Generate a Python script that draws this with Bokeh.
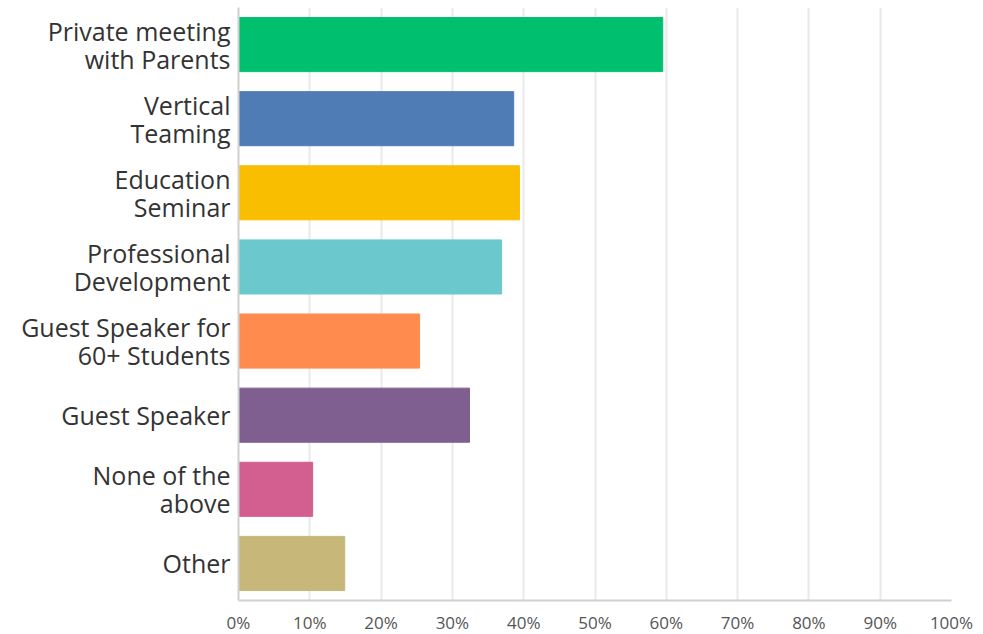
from bokeh.plotting import figure
from bokeh.models import FactorRange, Range1d, FixedTicker, ColumnDataSource
from bokeh.embed import file_html
from bokeh.resources import INLINE

categories = [
    "Private meeting\nwith Parents",
    "Vertical\nTeaming",
    "Education\nSeminar",
    "Professional\nDevelopment",
    "Guest Speaker for\n60+ Students",
    "Guest Speaker",
    "None of the\nabove",
    "Other",
]
values = [59.5, 38.6, 39.4, 36.9, 25.4, 32.4, 10.4, 14.9]
colors = ["#00BF6F", "#507CB6", "#F9BE00", "#6BC8CD", "#FF8B4F", "#7F5F90", "#D25F90", "#C7B879"]
ticks = [0, 10, 20, 30, 40, 50, 60, 70, 80, 90, 100]
tick_labels = {t: f"{t}%" for t in ticks}

src = ColumnDataSource(dict(cat=categories, val=values, color=colors))

p = figure(
    frame_width=713, frame_height=593,
    y_range=FactorRange(factors=list(reversed(categories)), range_padding=0),
    x_range=Range1d(0, 100),
    output_backend="svg", toolbar_location=None,
    min_border_left=238, min_border_right=24, min_border_top=7, min_border_bottom=0,
)
p.hbar(y="cat", right="val", left=0, height=0.73, color="color", source=src)

p.outline_line_color = None
p.ygrid.grid_line_color = None
p.xgrid.grid_line_color = "#e9e9e9"
p.xgrid.grid_line_width = 2
p.xaxis.ticker = FixedTicker(ticks=ticks)
p.xaxis.major_label_overrides = tick_labels
p.xaxis.major_tick_line_color = None
p.xaxis.major_tick_out = 0
p.xaxis.major_tick_in = 0
p.xaxis.minor_tick_line_color = None
p.xaxis.minor_tick_out = 0
p.xaxis.axis_line_color = "#d0d0d0"
p.xaxis.axis_line_width = 2
p.xaxis.major_label_text_font = "Open Sans"
p.xaxis.major_label_text_font_size = "17px"
p.xaxis.major_label_text_color = "#555555"
p.xaxis.major_label_standoff = 10

p.yaxis.major_tick_line_color = None
p.yaxis.major_tick_out = 0
p.yaxis.major_tick_in = 0
p.yaxis.minor_tick_line_color = None
p.yaxis.axis_line_color = "#d0d0d0"
p.yaxis.axis_line_width = 2
p.yaxis.major_label_text_font = "Open Sans"
p.yaxis.major_label_text_font_size = "25px"
p.yaxis.major_label_text_color = "#333333"
p.yaxis.major_label_standoff = 8
p.yaxis.major_label_text_line_height = 0.82

open("out.html", "w").write(file_html(p, INLINE))
